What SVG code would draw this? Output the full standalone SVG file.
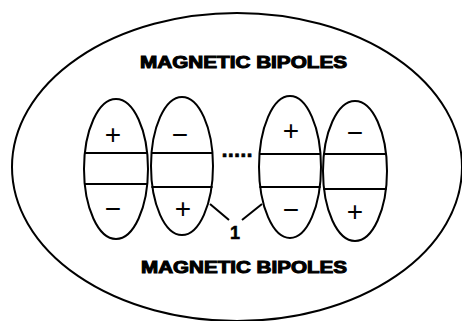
<svg xmlns="http://www.w3.org/2000/svg" width="462" height="321" viewBox="0 0 462 321">
<style>
.o{fill:none;stroke:#000;stroke-width:2}
.c{stroke:#000;stroke-width:2}
.s{font-family:"Liberation Sans",Arial,sans-serif;font-size:28px;text-anchor:middle;fill:#000}
.t{font-family:"Liberation Sans",Arial,sans-serif;font-size:16px;font-weight:bold;fill:#000;stroke:#000;stroke-width:1}
.l{font-family:"Liberation Sans",Arial,sans-serif;font-size:18px;font-weight:bold;text-anchor:middle;fill:#000;stroke:#000;stroke-width:0.5}
</style>
<rect width="462" height="321" fill="#fff"/>
<g id="outer"><ellipse class="o" cx="237" cy="167" rx="225" ry="154"/></g>
<g id="title-top"><text class="t" x="140" y="68" textLength="207" lengthAdjust="spacingAndGlyphs">MAGNETIC BIPOLES</text></g>
<g id="title-bottom"><text class="t" x="141" y="273" textLength="206" lengthAdjust="spacingAndGlyphs">MAGNETIC BIPOLES</text></g>
<g id="bipole1">
<ellipse class="o" cx="116" cy="169" rx="32" ry="70"/>
<line class="c" x1="84.8" y1="153" x2="147.2" y2="153"/>
<line class="c" x1="84.7" y1="184" x2="147.3" y2="184"/>
<text class="s" x="113" y="144">+</text>
<text class="s" x="113" y="217.5">−</text>
</g>
<g id="bipole2">
<ellipse class="o" cx="182" cy="166" rx="31" ry="69"/>
<line class="c" x1="151.5" y1="153" x2="212.5" y2="153"/>
<line class="c" x1="151.4" y1="187" x2="212.6" y2="187"/>
<text class="s" x="180" y="143.5">−</text>
<text class="s" x="183" y="217.5">+</text>
</g>
<g id="bipole3">
<ellipse class="o" cx="290" cy="167" rx="31" ry="71"/>
<line class="c" x1="259.4" y1="154" x2="320.6" y2="154"/>
<line class="c" x1="259.4" y1="187" x2="320.6" y2="187"/>
<text class="s" x="291" y="139.5">+</text>
<text class="s" x="291" y="218.5">−</text>
</g>
<g id="bipole4">
<ellipse class="o" cx="355" cy="171" rx="32" ry="70"/>
<line class="c" x1="323.6" y1="154" x2="386.4" y2="154"/>
<line class="c" x1="323.4" y1="189" x2="386.6" y2="189"/>
<text class="s" x="355" y="141.5">−</text>
<text class="s" x="355" y="220.5">+</text>
</g>
<g id="dots"><text x="237" y="157" font-family="Liberation Sans,Arial,sans-serif" font-size="22" font-weight="bold" text-anchor="middle" textLength="31" lengthAdjust="spacing" stroke="#000" stroke-width="0.6">.....</text></g>
<g id="connectors">
<line class="c" x1="210" y1="204" x2="229" y2="220"/>
<line class="c" x1="242" y1="220" x2="262" y2="204"/>
</g>
<g id="label1"><text class="l" x="235" y="239">1</text></g>
</svg>
